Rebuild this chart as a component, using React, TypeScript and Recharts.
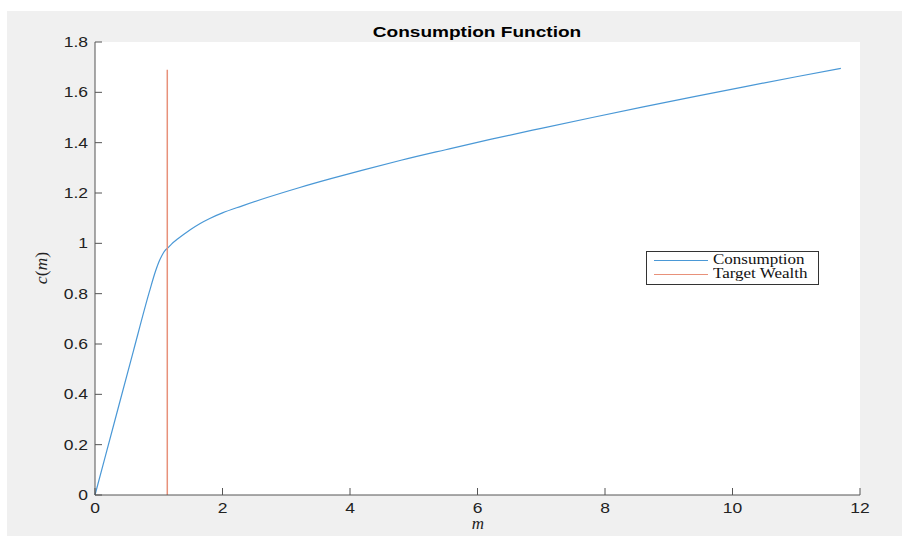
import { CartesianGrid, Line, LineChart, XAxis, YAxis } from "recharts";

// values
const mValues = [0, 0.3, 0.6, 0.85, 0.95, 1.0, 1.05, 1.1, 1.134, 1.2, 1.3, 1.4, 1.5, 1.65, 1.8, 2.0, 2.3, 2.7, 3.2, 3.7, 4.2, 4.8, 5.5, 6.2, 7.0, 7.8, 8.6, 9.4, 10.2, 11.0, 11.7];
const cValues = [0, 0.285, 0.57, 0.805, 0.89, 0.925, 0.952, 0.972, 0.98, 0.997, 1.018, 1.037, 1.055, 1.079, 1.099, 1.121, 1.148, 1.182, 1.221, 1.257, 1.291, 1.33, 1.372, 1.413, 1.457, 1.5, 1.542, 1.583, 1.623, 1.662, 1.695];
const targetM = 1.134;
const targetC = [0, 1.69];
const xTicks = [0, 2, 4, 6, 8, 10, 12];
const yTicks = [0, 0.2, 0.4, 0.6, 0.8, 1, 1.2, 1.4, 1.6, 1.8];

const consumption = mValues.map((m, i) => ({ m, c: cValues[i] }));
const target = targetC.map((c) => ({ m: targetM, c }));

const BLUE = "#4a98d6";
const ORANGE = "#e8917a";
const AXIS = "#555";
const TXT = "#222";
const SX = 1.25; // figure is stretched horizontally

const LeftTick = (p: any) => (
  <g>
    <line x1={p.x + 7} x2={p.x + 14} y1={p.y} y2={p.y} stroke={AXIS} />
    <text transform={`translate(${p.x},${p.y}) scale(${SX},1)`} textAnchor="end" dy="0.36em" fontSize={14} fill={TXT} fontFamily="Liberation Sans, Arial">
      {p.payload.value}
    </text>
  </g>
);

const BottomTick = (p: any) => (
  <g>
    <line x1={p.x} x2={p.x} y1={p.y - 7} y2={p.y - 14} stroke={AXIS} />
    <text transform={`translate(${p.x},${p.y}) scale(${SX},1)`} textAnchor="middle" dy={11} fontSize={14} fill={TXT} fontFamily="Liberation Sans, Arial">
      {p.payload.value}
    </text>
  </g>
);

const TopTick = (p: any) => <line x1={p.x} x2={p.x} y1={p.y} y2={p.y + 7} stroke={AXIS} />;
const RightTick = (p: any) => <line x1={p.x} x2={p.x - 7} y1={p.y} y2={p.y} stroke={AXIS} />;

export default function App() {
  return (
    <div style={{ position: "absolute", left: 0, top: 0, width: 902, height: 536, background: "#fff" }}>
      <div style={{ position: "absolute", left: 7, top: 11, width: 895, height: 525, background: "#f0f0f0" }} />
      <div style={{ position: "absolute", left: 0, top: 0 }}>
        <LineChart width={902} height={536} margin={{ top: 42, right: 42, bottom: 0, left: 0 }}>
          <CartesianGrid horizontal={false} vertical={false} fill="#fff" />
          <XAxis dataKey="m" type="number" domain={[0, 12]} ticks={xTicks} height={41} tickSize={0} tickMargin={7} tickLine={false} axisLine={{ stroke: AXIS }} tick={<BottomTick />} allowDuplicatedCategory={false} />
          <XAxis xAxisId="top" orientation="top" dataKey="m" type="number" domain={[0, 12]} ticks={xTicks} height={0} tickSize={0} tickMargin={0} tickLine={false} axisLine={{ stroke: AXIS }} tick={<TopTick />} />
          <YAxis type="number" domain={[0, 1.8]} ticks={yTicks} width={95} tickSize={0} tickMargin={7} tickLine={false} axisLine={{ stroke: AXIS }} tick={<LeftTick />} />
          <YAxis yAxisId="right" orientation="right" type="number" domain={[0, 1.8]} ticks={yTicks} width={0} tickSize={0} tickMargin={0} tickLine={false} axisLine={{ stroke: AXIS }} tick={<RightTick />} />
          <Line data={consumption} dataKey="c" type="monotone" stroke={BLUE} strokeWidth={1.2} dot={false} isAnimationActive={false} />
          <Line data={target} dataKey="c" type="linear" stroke={ORANGE} strokeWidth={1.5} dot={false} isAnimationActive={false} />
        </LineChart>
      </div>
      <div style={{ position: "absolute", left: 377, top: 24, width: 200, textAlign: "center", fontFamily: "Liberation Sans, Arial", fontWeight: "bold", fontSize: 15, lineHeight: "15px", color: "#000", transform: "scaleX(1.27)", whiteSpace: "nowrap" }}>
        Consumption Function
      </div>
      <div style={{ position: "absolute", left: 2, top: 258, width: 80, textAlign: "center", fontFamily: "Liberation Serif, serif", fontSize: 16, lineHeight: "20px", color: TXT, transform: "rotate(-90deg) scaleX(1.1)", whiteSpace: "nowrap" }}>
        <i>c</i>(<i>m</i>)
      </div>
      <div style={{ position: "absolute", left: 438, top: 518, width: 80, textAlign: "center", fontFamily: "Liberation Serif, serif", fontSize: 17, lineHeight: "12px", color: TXT, fontStyle: "italic" }}>
        m
      </div>
      <div style={{ position: "absolute", left: 646, top: 251, width: 171, height: 32, border: "1px solid #333", background: "#fff" }}>
        {[{ name: "Consumption", color: BLUE }, { name: "Target Wealth", color: ORANGE }].map((it, i) => (
          <div key={it.name} style={{ position: "absolute", left: 0, top: 1 + i * 14, height: 14, width: 171 }}>
            <div style={{ position: "absolute", left: 7, top: 7, width: 54, height: 1.2, background: it.color }} />
            <div style={{ position: "absolute", left: 66, top: -1, fontFamily: "Liberation Serif, serif", fontSize: 13.6, lineHeight: "16px", color: "#111", transform: "scaleX(1.25)", transformOrigin: "left center", whiteSpace: "nowrap" }}>
              {it.name}
            </div>
          </div>
        ))}
      </div>
    </div>
  );
}
